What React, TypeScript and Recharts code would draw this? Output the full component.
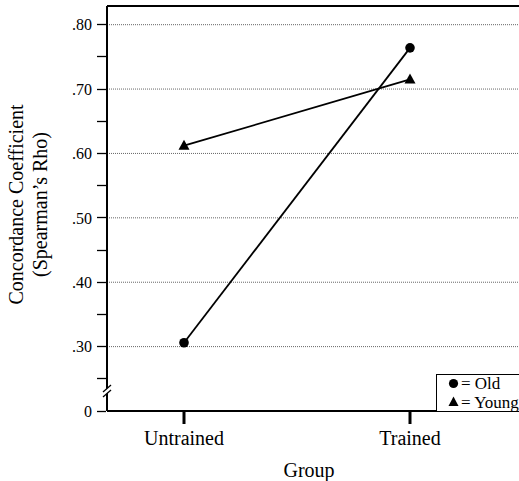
import { LineChart, Line, XAxis, YAxis, ReferenceLine, Legend } from "recharts";

const groups = ["Untrained", "Trained"];
const oldRho = [0.306, 0.764];
const youngRho = [0.612, 0.715];

// axis starts at .20 but is labelled "0" (broken axis)
const Y_MIN = 0.2;
const Y_MAX = 0.829;
const AXIS_BREAK = 0.231;
const yTicks = [0.2, 0.25, 0.3, 0.35, 0.4, 0.45, 0.5, 0.55, 0.6, 0.65, 0.7, 0.75, 0.8];
const gridValues = [0.3, 0.4, 0.5, 0.6, 0.7, 0.8];

const legendItems = [
  { key: "old", label: "= Old", shape: "circle" },
  { key: "young", label: "= Young", shape: "triangle" },
];

const data = groups.map((g, i) => ({ group: g, old: oldRho[i], young: youngRho[i] }));

const FONT = "Liberation Serif";

function fmtTick(v: number) {
  if (v === Y_MIN) return "0";
  const h = Math.round(v * 100);
  return h % 10 === 0 ? "." + h : "";
}

function YTick(props: any) {
  const { x, y, payload } = props;
  const v = payload.value;
  const ax = x + 15;
  if (v === AXIS_BREAK) {
    return (
      <g>
        <polygon
          points={`${ax - 4},${y + 1} ${ax + 4},${y - 6} ${ax + 4},${y - 1} ${ax - 4},${y + 6}`}
          fill="#fff"
        />
        <line x1={ax - 4} y1={y + 1} x2={ax + 4} y2={y - 6} stroke="#000" strokeWidth={1.3} />
        <line x1={ax - 4} y1={y + 6} x2={ax + 4} y2={y - 1} stroke="#000" strokeWidth={1.3} />
      </g>
    );
  }
  const ly = Math.floor(y) + 0.5;
  return (
    <g>
      <line x1={ax - 10} y1={ly} x2={ax - 1} y2={ly} stroke="#000" strokeWidth={1.3} />
      <text x={x} y={y} dy="0.355em" textAnchor="end" fontSize={16} style={{ fontFamily: FONT }} fill="#000">
        {fmtTick(v)}
      </text>
    </g>
  );
}

function YTitle(props: any) {
  const vb = props.viewBox;
  const cy = vb.y + vb.height / 2 - 4;
  return (
    <text transform={`translate(${vb.x + 23}, ${cy}) rotate(-90)`} textAnchor="middle" fontSize={20} style={{ fontFamily: FONT }} fill="#000">
      <tspan x={0} dy={0}>Concordance Coefficient</tspan>
      <tspan x={0} dy={23.5}>(Spearman’s Rho)</tspan>
    </text>
  );
}

function XTitle(props: any) {
  const vb = props.viewBox;
  return (
    <text x={vb.x + vb.width / 2 - 4} y={vb.y + 66} textAnchor="middle" fontSize={20} style={{ fontFamily: FONT }} fill="#000">
      Group
    </text>
  );
}

function Triangle(props: any) {
  const { cx, cy } = props;
  if (cx == null || cy == null) return null;
  return <path d={`M${cx},${cy - 6} L${cx + 5.5},${cy + 4} L${cx - 5.5},${cy + 4} Z`} fill="#000" />;
}

function Circle(props: any) {
  const { cx, cy } = props;
  if (cx == null || cy == null) return null;
  return <circle cx={cx} cy={cy} r={4.8} fill="#000" />;
}

function LegendBox() {
  return (
    <div style={{ width: 83, height: 36, borderTop: "1px solid #000", borderLeft: "1px solid #000", background: "#fff" }}>
      <svg width={83} height={36} style={{ display: "block" }}>
        {legendItems.map((it, i) => {
          const cy = 8.5 + i * 18.5;
          return (
            <g key={it.key}>
              {it.shape === "circle" ? (
                <circle cx={16.5} cy={cy} r={4.6} fill="#000" />
              ) : (
                <path d={`M16.5,${cy - 5.5} L21.5,${cy + 4} L11.5,${cy + 4} Z`} fill="#000" />
              )}
              <text x={24} y={cy + 5.5} fontSize={17} style={{ fontFamily: FONT }} fill="#000">
                {it.label}
              </text>
            </g>
          );
        })}
      </svg>
    </div>
  );
}

export default function App() {
  return (
    <div style={{ position: "absolute", left: 0, top: 0, background: "#fff", fontFamily: FONT }}>
      <LineChart width={519} height={481} data={data} margin={{ top: 6, right: 0, bottom: 0, left: 0 }}>
        {gridValues.map((v) => (
          <ReferenceLine key={v} y={v} stroke="#666" strokeDasharray="1 1" strokeWidth={1} />
        ))}
        <ReferenceLine y={Y_MAX} stroke="#000" strokeWidth={2} />
        <XAxis
          dataKey="group"
          padding={{ left: 77, right: 109 }}
          height={70}
          tickSize={13}
          tickMargin={7}
          tick={{ fontSize: 20, fill: "#000", fontFamily: FONT }}
          tickLine={{ stroke: "#000", strokeWidth: 3 }}
          axisLine={{ stroke: "#000", strokeWidth: 2 }}
          label={{ content: XTitle }}
        />
        <YAxis
          type="number"
          domain={[Y_MIN, Y_MAX]}
          ticks={[...yTicks, AXIS_BREAK]}
          interval={0}
          width={107}
          tickSize={10}
          tickMargin={5}
          tickLine={false}
          tick={<YTick />}
          axisLine={{ stroke: "#000", strokeWidth: 2 }}
          label={{ content: YTitle }}
        />
        <Legend
          layout="horizontal"
          verticalAlign="middle"
          align="center"
          wrapperStyle={{ left: 436, top: 374, width: 83, height: 36 }}
          content={() => <LegendBox />}
        />
        <Line dataKey="old" stroke="#000" strokeWidth={1.8} dot={<Circle />} isAnimationActive={false} />
        <Line dataKey="young" stroke="#000" strokeWidth={1.8} dot={<Triangle />} isAnimationActive={false} />
      </LineChart>
    </div>
  );
}
